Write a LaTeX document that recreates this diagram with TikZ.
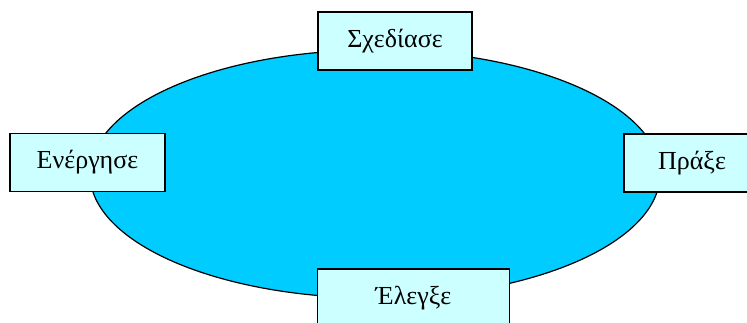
\documentclass[tikz,border=0pt]{standalone}
\usepackage{fontspec}
\setmainfont{Liberation Serif}
\usetikzlibrary{shapes.geometric}
\definecolor{cyanfill}{HTML}{00CCFF}
\definecolor{boxfill}{HTML}{CCFFFF}
\begin{document}
\begin{tikzpicture}[x=1pt,y=-1pt,
  stage/.style={draw=black,line width=1.8pt,fill=boxfill,rectangle,inner sep=0pt,
    font=\fontsize{26}{31}\selectfont},
  cycle/.style={draw=black,line width=1.2pt,fill=cyanfill}]
\useasboundingbox (0,0) rectangle (747,322);
\clip (0,0) rectangle (747,322);
\node[cycle,ellipse,minimum width=570pt,minimum height=248pt,inner sep=0pt] (loop) at (375,174) {};
\node[stage,minimum width=154pt,minimum height=58pt] (plan) at (395,41) {Σχεδίασε};
\node[stage,minimum width=155pt,minimum height=58pt] (act) at (87.5,162.5) {Ενέργησε};
\node[stage,minimum width=136pt,minimum height=58pt] (do) at (692,163) {Πράξε};
\node[stage,minimum width=192pt,minimum height=58pt] (check) at (413.5,298) {Έλεγξε};
\end{tikzpicture}
\end{document}
